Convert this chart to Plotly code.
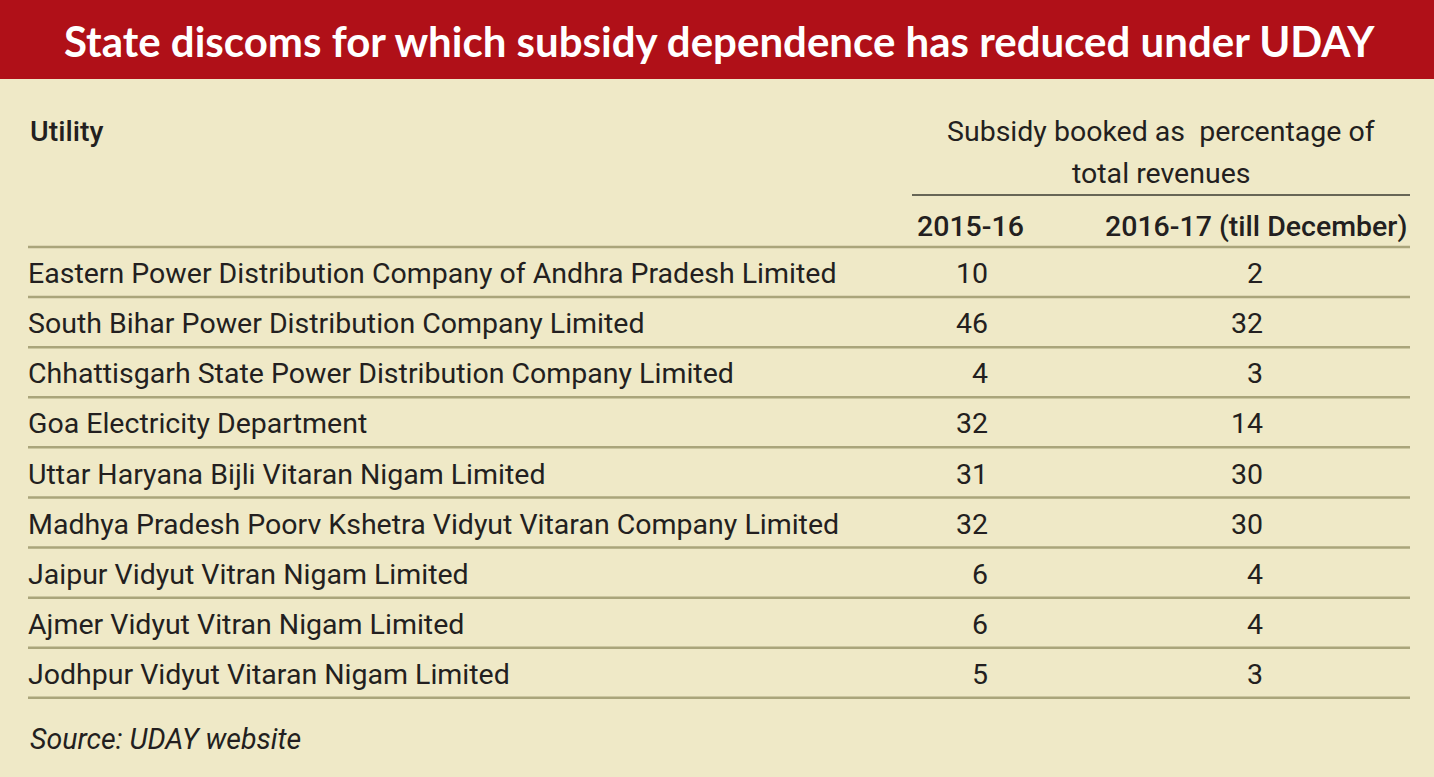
import plotly.graph_objects as go

# Data
utilities = [
    "Eastern Power Distribution Company of Andhra Pradesh Limited",
    "South Bihar Power Distribution Company Limited",
    "Chhattisgarh State Power Distribution Company Limited",
    "Goa Electricity Department",
    "Uttar Haryana Bijli Vitaran Nigam Limited",
    "Madhya Pradesh Poorv Kshetra Vidyut Vitaran Company Limited",
    "Jaipur Vidyut Vitran Nigam Limited",
    "Ajmer Vidyut Vitran Nigam Limited",
    "Jodhpur Vidyut Vitaran Nigam Limited",
]
subsidy_2015_16 = [10, 46, 4, 32, 31, 32, 6, 6, 5]
subsidy_2016_17 = [2, 32, 3, 14, 30, 30, 4, 4, 3]

title = "State discoms for which subsidy dependence has reduced under UDAY"
col_header = ["Subsidy booked as  percentage of", "total revenues"]
year_labels = ["2015-16", "2016-17 (till December)"]
source = "Source: UDAY website"

W, H = 1434, 777
RED = "#b01018"
BG = "#efe9c7"
RULE = "#aaa57b"
INK = "#231f20"
BODY = "Roboto, sans-serif"
TITLE_FONT = "Lato, Roboto, sans-serif"
FS = 28.5

row0, row_h = 273, 50.1
rows_y = [row0 + 3 + i * row_h for i in range(len(utilities))]

fig = go.Figure()

fig.add_trace(go.Scatter(
    x=[28] * len(utilities), y=rows_y, text=utilities, mode="text",
    textposition="middle right", textfont=dict(family=BODY, size=FS, color=INK),
    hoverinfo="skip"))
fig.add_trace(go.Scatter(
    x=[988] * len(utilities), y=rows_y, text=[str(v) for v in subsidy_2015_16],
    mode="text", textposition="middle left",
    textfont=dict(family=BODY, size=FS, color=INK), hoverinfo="skip"))
fig.add_trace(go.Scatter(
    x=[1263] * len(utilities), y=rows_y, text=[str(v) for v in subsidy_2016_17],
    mode="text", textposition="middle left",
    textfont=dict(family=BODY, size=FS, color=INK), hoverinfo="skip"))

shapes = [
    dict(type="rect", xref="x", yref="y", x0=0, x1=W, y0=0, y1=79,
         fillcolor=RED, line=dict(width=0), layer="below"),
    dict(type="line", xref="x", yref="y", x0=912, x1=1410, y0=195, y1=195,
         line=dict(color="#3a3a30", width=1.5)),
]
for i in range(len(utilities) + 1):
    y = row0 - row_h / 2 + i * row_h - 1
    shapes.append(dict(type="line", xref="x", yref="y", x0=28, x1=1410,
                       y0=y, y1=y, line=dict(color=RULE, width=2.5)))

annotations = [
    dict(x=W / 2 + 2, y=41, text="<b>" + title + "</b>", showarrow=False,
         font=dict(family=TITLE_FONT, size=42, color="white")),
    dict(x=28, y=131, text="Utility", xanchor="left", showarrow=False,
         font=dict(family=BODY, size=FS, color=INK, weight=500)),
    dict(x=1161, y=131, text=col_header[0], showarrow=False,
         font=dict(family=BODY, size=FS, color=INK)),
    dict(x=1161, y=173, text=col_header[1], showarrow=False,
         font=dict(family=BODY, size=FS, color=INK)),
    dict(x=970, y=226, text=year_labels[0], showarrow=False,
         font=dict(family=BODY, size=FS, color=INK, weight=500)),
    dict(x=1256, y=226, text=year_labels[1], showarrow=False,
         font=dict(family=BODY, size=FS, color=INK, weight=500)),
    dict(x=28, y=739, text="<i>" + source + "</i>", xanchor="left", showarrow=False,
         font=dict(family=BODY, size=FS, color=INK)),
]

fig.update_layout(
    width=W, height=H, margin=dict(l=0, r=0, t=0, b=0),
    paper_bgcolor=BG, plot_bgcolor=BG, showlegend=False,
    xaxis=dict(range=[0, W], visible=False, fixedrange=True),
    yaxis=dict(range=[H, 0], visible=False, fixedrange=True),
    shapes=shapes, annotations=annotations,
)

fig.write_html("out.html", config=dict(displayModeBar=False),
               post_script="document.body.style.margin='0';"
                           "document.body.style.overflow='hidden';")
